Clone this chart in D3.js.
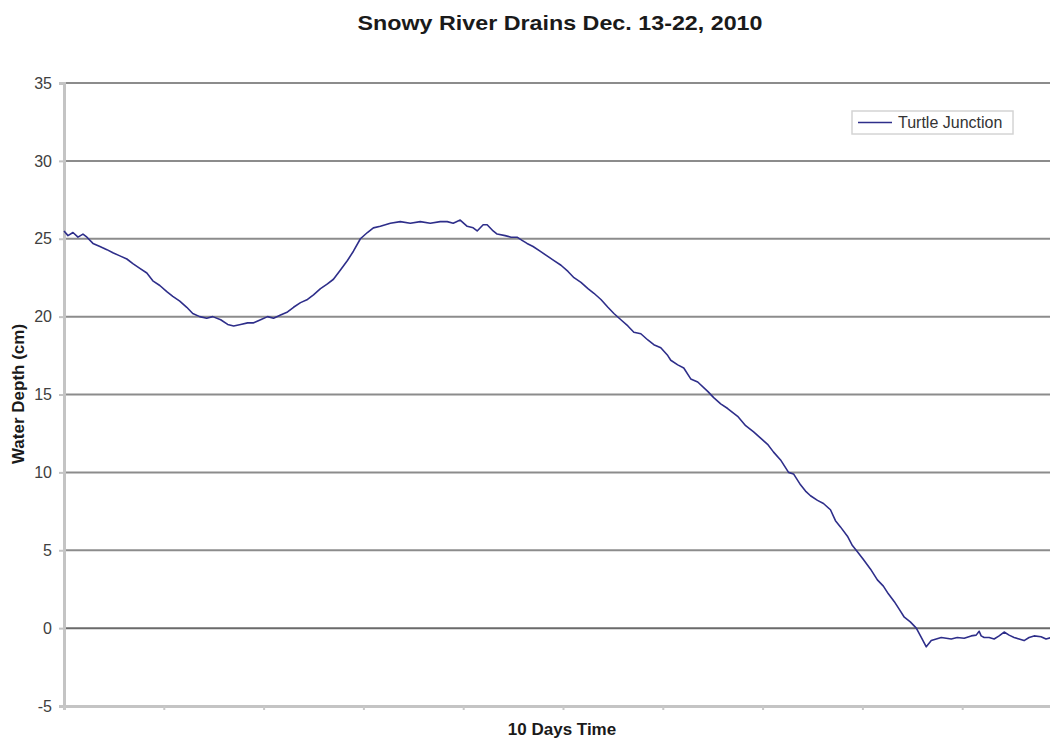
<!DOCTYPE html>
<html>
<head>
<meta charset="utf-8">
<script src="https://cdn.jsdelivr.net/npm/d3@7"></script>
<style>
  body { margin: 0; background: #fff; }
  svg { display: block; font-family: "Liberation Sans", Arial, sans-serif; }
</style>
</head>
<body>
<div id="chart"></div>
<script>
// time in days since start of record, depth in cm
var days = [0, 0.04, 0.09, 0.14, 0.19, 0.23, 0.29, 0.36, 0.43, 0.49, 0.56, 0.63, 0.69, 0.76, 0.83, 0.89, 0.96,
  1.03, 1.09, 1.16, 1.23, 1.29, 1.36, 1.43, 1.49, 1.57, 1.64, 1.70, 1.77, 1.84, 1.90, 1.97,
  2.04, 2.10, 2.17, 2.24, 2.30, 2.37, 2.44, 2.50, 2.57, 2.64, 2.70, 2.77, 2.84, 2.90, 2.97,
  3.04, 3.10, 3.17, 3.27, 3.37, 3.47, 3.57, 3.67, 3.77, 3.84, 3.90, 3.97,
  4.04, 4.10, 4.14, 4.20, 4.24, 4.30, 4.34, 4.42, 4.48, 4.54, 4.59, 4.64, 4.70, 4.77, 4.84, 4.91, 4.98,
  5.05, 5.11, 5.18, 5.25, 5.31, 5.38, 5.45, 5.51, 5.58, 5.65, 5.71, 5.78, 5.85, 5.91, 5.98,
  6.05, 6.08, 6.15, 6.21, 6.28, 6.35, 6.45, 6.51, 6.58, 6.65, 6.75, 6.83, 6.91, 6.98,
  7.05, 7.11, 7.18, 7.26, 7.31, 7.38, 7.43, 7.48, 7.55, 7.61, 7.68, 7.73, 7.78, 7.85, 7.90, 7.95,
  8.01, 8.08, 8.15, 8.21, 8.26, 8.32, 8.37, 8.42, 8.48, 8.54, 8.59, 8.64, 8.69, 8.74, 8.79, 8.84, 8.89, 8.95,
  9.02, 9.09, 9.14, 9.17, 9.19, 9.22, 9.27, 9.32, 9.37, 9.42, 9.47, 9.52, 9.57, 9.62, 9.67, 9.72, 9.79, 9.84, 9.89, 9.97];

var depth = [25.5, 25.2, 25.4, 25.1, 25.3, 25.1, 24.7, 24.5, 24.3, 24.1, 23.9, 23.7, 23.4, 23.1, 22.8, 22.3, 22.0,
  21.6, 21.3, 21.0, 20.6, 20.2, 20.0, 19.9, 20.0, 19.8, 19.5, 19.4, 19.5, 19.6, 19.6, 19.8,
  20.0, 19.9, 20.1, 20.3, 20.6, 20.9, 21.1, 21.4, 21.8, 22.1, 22.4, 23.0, 23.6, 24.2, 25.0,
  25.4, 25.7, 25.8, 26.0, 26.1, 26.0, 26.1, 26.0, 26.1, 26.1, 26.0, 26.2,
  25.8, 25.7, 25.5, 25.9, 25.9, 25.5, 25.3, 25.2, 25.1, 25.1, 24.9, 24.7, 24.5, 24.2, 23.9, 23.6, 23.3,
  22.9, 22.5, 22.2, 21.8, 21.5, 21.1, 20.6, 20.2, 19.8, 19.4, 19.0, 18.9, 18.5, 18.2, 18.0,
  17.5, 17.2, 16.9, 16.7, 16.0, 15.8, 15.2, 14.8, 14.4, 14.1, 13.6, 13.0, 12.6, 12.2,
  11.8, 11.3, 10.8, 10.0, 9.9, 9.2, 8.8, 8.5, 8.2, 8.0, 7.6, 6.9, 6.5, 5.9, 5.3, 4.9,
  4.4, 3.8, 3.1, 2.7, 2.2, 1.7, 1.2, 0.7, 0.4, 0.0, -0.6, -1.2, -0.8, -0.7, -0.6, -0.65, -0.7, -0.6,
  -0.65, -0.5, -0.45, -0.2, -0.5, -0.6, -0.6, -0.7, -0.5, -0.25, -0.45, -0.6, -0.7, -0.8, -0.6, -0.5, -0.55, -0.7, -0.6, -0.55];

var yTicks = [-5, 0, 5, 10, 15, 20, 25, 30, 35];
var xTicks = [0, 1, 2, 3, 4, 5, 6, 7, 8, 9, 10];
var seriesName = "Turtle Junction";

var data = days.map(function(d, i) { return { t: d, v: depth[i] }; });

var W = 1050, H = 741;
var margin = {top: 83, left: 64},
    width = 998,
    height = 623;

var svg = d3.select("#chart").append("svg")
    .attr("width", W)
    .attr("height", H);

var x = d3.scaleLinear().domain([0, 10]).range([margin.left, margin.left + width]);
var y = d3.scaleLinear().domain([-5, 35]).range([margin.top + height, margin.top]);

// gridlines
svg.append("g")
  .selectAll("line")
  .data(yTicks.filter(function(d) { return d > -5; }))
  .enter().append("line")
    .attr("x1", x(0))
    .attr("x2", x(10))
    .attr("y1", function(d) { return y(d); })
    .attr("y2", function(d) { return y(d); })
    .attr("stroke", function(d) { return d === 0 ? "#6a6a6a" : "#8c8c8c"; })
    .attr("stroke-width", 2);

// y axis - plain hyphen for negatives like the original
var yAxis = svg.append("g")
    .attr("transform", "translate(" + x(0) + ",0)")
    .call(d3.axisLeft(y).tickValues(yTicks).tickSize(5).tickPadding(7)
      .tickFormat(function(d) { return String(d); }));
yAxis.select(".domain").attr("stroke", "#c4c4c4").attr("stroke-width", 3);
yAxis.selectAll(".tick line").attr("stroke", "#c4c4c4").attr("stroke-width", 2);
yAxis.selectAll(".tick text")
    .attr("fill", "#404040")
    .style("font-size", "16px")
    .style("font-family", "'Liberation Sans', Arial, sans-serif");

// x axis (no labels, only ticks)
var xAxis = svg.append("g")
    .attr("transform", "translate(0," + y(-5) + ")")
    .call(d3.axisBottom(x).tickValues(xTicks).tickSize(4).tickFormat(""));
xAxis.select(".domain").attr("stroke", "#c4c4c4").attr("stroke-width", 3);
xAxis.selectAll(".tick line").attr("stroke", "#c8c8c8").attr("stroke-width", 2);

// the series
svg.append("path")
  .datum(data)
  .attr("fill", "none")
  .attr("stroke", "#2e2e8a")
  .attr("stroke-width", 1.6)
  .attr("stroke-linejoin", "round")
  .attr("d", d3.line()
        .x(function(d) { return x(d.t); })
        .y(function(d) { return y(d.v); })
       );

// title
svg.append("text")
    .attr("x", 560)
    .attr("y", 30)
    .attr("text-anchor", "middle")
    .attr("textLength", 405)
    .attr("lengthAdjust", "spacingAndGlyphs")
    .style("font-size", "21px")
    .style("font-weight", "bold")
    .attr("fill", "#1a1a1a")
    .text("Snowy River Drains Dec. 13-22, 2010");

// axis titles
svg.append("text")
    .attr("transform", "translate(24," + 394 + ") rotate(-90)")
    .attr("text-anchor", "middle")
    .style("font-size", "17px")
    .style("font-weight", "bold")
    .attr("fill", "#1a1a1a")
    .text("Water Depth (cm)");

svg.append("text")
    .attr("x", 562)
    .attr("y", 735)
    .attr("text-anchor", "middle")
    .style("font-size", "17px")
    .style("font-weight", "bold")
    .attr("fill", "#1a1a1a")
    .text("10 Days Time");

// legend
var lg = svg.append("g").attr("transform", "translate(852,111)");
lg.append("rect")
    .attr("width", 161)
    .attr("height", 23)
    .attr("fill", "#fff")
    .attr("stroke", "#d4d4d4")
    .attr("stroke-width", 1.5);
lg.append("line")
    .attr("x1", 6).attr("x2", 40)
    .attr("y1", 11.5).attr("y2", 11.5)
    .attr("stroke", "#2e2e8a")
    .attr("stroke-width", 1.6);
lg.append("text")
    .attr("x", 46)
    .attr("y", 17)
    .style("font-size", "16px")
    .attr("fill", "#333")
    .text(seriesName);
</script>
</body>
</html>
